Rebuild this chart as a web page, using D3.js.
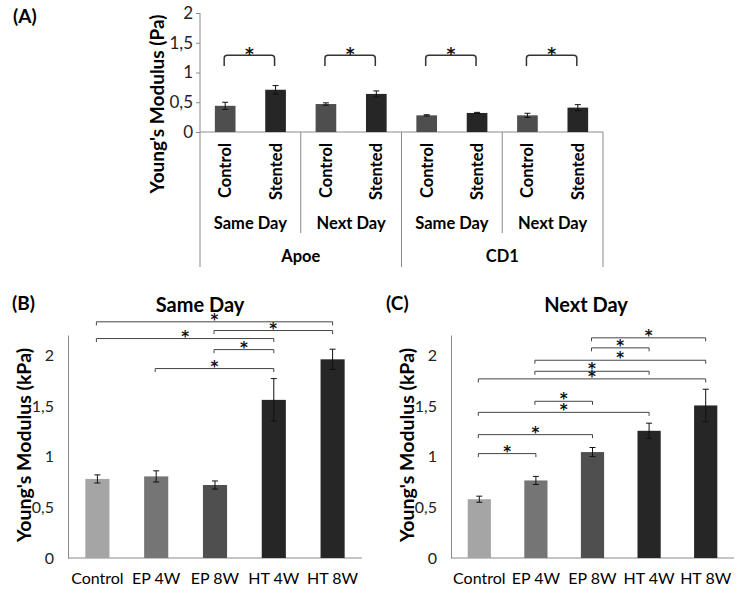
<!DOCTYPE html>
<html>
<head>
<meta charset="utf-8">
<script src="https://cdn.jsdelivr.net/npm/d3@7"></script>
<style>
  body { margin: 0; background: #ffffff; }
  svg { display: block; font-family: Lato, "Open Sans", sans-serif; }
</style>
</head>
<body>
<script>
// ---------- Panel A data ----------
const aCategories = ["Control", "Stented", "Control", "Stented", "Control", "Stented", "Control", "Stented"];
const aDays = ["Same Day", "Next Day", "Same Day", "Next Day"];
const aStrains = ["Apoe", "CD1"];
const aValues = [0.44, 0.71, 0.47, 0.64, 0.28, 0.32, 0.28, 0.41];
const aErrors = [0.06, 0.07, 0.02, 0.05, 0.01, 0.01, 0.035, 0.05];
const aBrackets = [[0, 1], [2, 3], [4, 5], [6, 7]];
const aTicks = [0, 0.5, 1, 1.5, 2];
const aTickLabels = ["0", "0,5", "1", "1,5", "2"];

// ---------- Panels B / C data ----------
const bcCategories = ["Control", "EP 4W", "EP 8W", "HT 4W", "HT 8W"];
const bValues = [0.78, 0.805, 0.72, 1.56, 1.96];
const bErrors = [0.04, 0.055, 0.04, 0.21, 0.10];
const bBrackets = [[0, 4, 2.33], [2, 4, 2.244], [0, 3, 2.165], [2, 3, 2.056], [1, 3, 1.869]];
const cValues = [0.58, 0.765, 1.045, 1.255, 1.505];
const cErrors = [0.03, 0.04, 0.045, 0.075, 0.16];
const cBrackets = [[2, 4, 2.172], [2, 3, 2.073], [1, 4, 1.951], [1, 3, 1.842], [0, 4, 1.767],
                   [1, 2, 1.546], [0, 3, 1.437], [0, 2, 1.217], [0, 1, 1.03]];
const bcTicks = [0, 0.5, 1, 1.5, 2];
const bcTickLabels = ["0", "0,5", "1", "1,5", "2"];

const aColors = ["#4e4e4e", "#262626"];
const bcColors = ["#a5a5a5", "#757575", "#4f4f4f", "#262626", "#262626"];
const axisGrey = "#8a8a8a";
const starFont = "'DejaVu Sans', sans-serif";

const svg = d3.select("body").append("svg").attr("width", 740).attr("height", 593);

// ================= Panel A =================
{
  const x = d3.scaleBand().domain(d3.range(aCategories.length)).range([200, 603])
    .paddingInner(0.59).paddingOuter(0.295);
  const y = d3.scaleLinear().domain([0, 2]).range([132, 13]);
  const g = svg.append("g");

  svg.append("text").attr("x", 13).attr("y", 15).attr("dominant-baseline", "central")
    .attr("font-weight", "bold").attr("font-size", 19).text("(A)");

  // y axis
  const ax = g.append("g").attr("transform", "translate(200,0)")
    .call(d3.axisLeft(y).tickValues(aTicks).tickFormat((d, i) => aTickLabels[i]).tickSize(4).tickPadding(3).tickSizeOuter(0));
  ax.select(".domain").remove();
  ax.selectAll(".tick line").attr("stroke", axisGrey);
  ax.selectAll(".tick text").attr("font-size", 17).attr("font-family", "Lato, sans-serif").attr("fill", "#222");
  g.append("line").attr("x1", 200).attr("x2", 200).attr("y1", y(2)).attr("y2", 267).attr("stroke", axisGrey);
  g.append("line").attr("x1", 200).attr("x2", 603).attr("y1", y(0)).attr("y2", y(0)).attr("stroke", axisGrey);

  // bars
  g.selectAll("rect.bar").data(aValues).join("rect")
    .attr("x", (d, i) => x(i)).attr("width", x.bandwidth())
    .attr("y", d => y(d)).attr("height", d => y(0) - y(d))
    .attr("fill", (d, i) => aColors[i % 2]);

  // error bars
  aValues.forEach((v, i) => {
    const cx = x(i) + x.bandwidth() / 2;
    const e = aErrors[i];
    g.append("path").attr("d", `M${cx},${y(v - e)}V${y(v + e)}M${cx - 3},${y(v + e)}H${cx + 3}M${cx - 3},${y(v - e)}H${cx + 3}`)
      .attr("stroke", "#111").attr("fill", "none").attr("stroke-width", 1);
  });

  // brackets
  aBrackets.forEach(([a, b]) => {
    const x1 = x(a) + x.bandwidth() / 2 - 1, x2 = x(b) + x.bandwidth() / 2 - 1;
    const yt = y(1.29), yl = y(1.11), r = 3;
    g.append("path").attr("d", `M${x1},${yl}V${yt + r}Q${x1},${yt} ${x1 + r},${yt}H${x2 - r}Q${x2},${yt} ${x2},${yt + r}V${yl}`)
      .attr("stroke", "#333").attr("stroke-width", 1.5).attr("fill", "none");
    g.append("text").attr("x", (x1 + x2) / 2).attr("y", yt + 5).attr("text-anchor", "middle")
      .attr("font-family", starFont).attr("font-weight", "bold").attr("font-size", 17).attr("fill", "#111").text("*");
  });

  // category labels
  aCategories.forEach((c, i) => {
    const cx = x(i) + x.bandwidth() / 2;
    g.append("text").attr("transform", `translate(${cx},143) rotate(-90)`)
      .attr("text-anchor", "end").attr("dominant-baseline", "central")
      .attr("font-weight", "bold").attr("font-size", 16.5).text(c);
  });
  // day groups
  const groupW = (603 - 200) / aDays.length;
  aDays.forEach((d, k) => {
    g.append("text").attr("x", 200 + groupW * (k + 0.5)).attr("y", 223)
      .attr("text-anchor", "middle").attr("dominant-baseline", "central")
      .attr("font-weight", "bold").attr("font-size", 16.5).text(d);
    if (k > 0) {
      const lx = 200 + groupW * k;
      g.append("line").attr("x1", lx).attr("x2", lx).attr("y1", y(0)).attr("y2", k === 2 ? 267 : 233).attr("stroke", axisGrey);
    }
  });
  g.append("line").attr("x1", 603).attr("x2", 603).attr("y1", y(0)).attr("y2", 267).attr("stroke", axisGrey);
  const strainW = (603 - 200) / aStrains.length;
  aStrains.forEach((s, k) => {
    g.append("text").attr("x", 200 + strainW * (k + 0.5)).attr("y", 256)
      .attr("text-anchor", "middle").attr("dominant-baseline", "central")
      .attr("font-weight", "bold").attr("font-size", 16.5).text(s);
  });

  svg.append("text").attr("transform", "translate(156,104) rotate(-90)")
    .attr("text-anchor", "middle").attr("dominant-baseline", "central")
    .attr("font-weight", "bold").attr("font-size", 19).text("Young's Modulus (Pa)");
}

// ================= Panels B and C =================
function drawPanel(opts) {
  const { x0, x1, letter, letterX, title, titleX, ytitleX, values, errors, brackets } = opts;
  const x = d3.scaleBand().domain(d3.range(bcCategories.length)).range([x0, x1])
    .paddingInner(0.59).paddingOuter(0.295);
  const y = d3.scaleLinear().domain([0, 2.2]).range([558, 335]);
  const g = svg.append("g");

  svg.append("text").attr("x", letterX).attr("y", 302).attr("dominant-baseline", "central")
    .attr("font-weight", "bold").attr("font-size", 19).text(letter);
  svg.append("text").attr("x", titleX).attr("y", 304).attr("text-anchor", "middle").attr("dominant-baseline", "central")
    .attr("font-weight", "bold").attr("font-size", 20).text(title);

  const ax = g.append("g").attr("transform", `translate(${x0},0)`)
    .call(d3.axisLeft(y).tickValues(bcTicks).tickFormat((d, i) => bcTickLabels[i]).tickSize(0).tickPadding(14).tickSizeOuter(0));
  ax.select(".domain").attr("stroke", axisGrey);
  ax.selectAll(".tick text").attr("font-size", 16).attr("font-family", "Lato, sans-serif").attr("fill", "#222");

  g.append("line").attr("x1", x0).attr("x2", x1).attr("y1", y(0)).attr("y2", y(0)).attr("stroke", axisGrey);

  g.selectAll("rect.bar").data(values).join("rect")
    .attr("x", (d, i) => x(i)).attr("width", x.bandwidth())
    .attr("y", d => y(d)).attr("height", d => y(0) - y(d))
    .attr("fill", (d, i) => bcColors[i]);

  values.forEach((v, i) => {
    const cx = x(i) + x.bandwidth() / 2;
    const e = errors[i];
    g.append("path").attr("d", `M${cx},${y(v - e)}V${y(v + e)}M${cx - 3},${y(v + e)}H${cx + 3}M${cx - 3},${y(v - e)}H${cx + 3}`)
      .attr("stroke", "#111").attr("fill", "none").attr("stroke-width", 1);
  });

  brackets.forEach(([a, b, lvl]) => {
    const bx1 = x(a) + x.bandwidth() / 2 - 1, bx2 = x(b) + x.bandwidth() / 2;
    const by = y(lvl);
    g.append("path").attr("d", `M${bx1},${by + 3.5}V${by}H${bx2}V${by + 3.5}`)
      .attr("stroke", "#444").attr("stroke-width", 1).attr("fill", "none");
    g.append("text").attr("x", (bx1 + bx2) / 2).attr("y", by + 3).attr("text-anchor", "middle")
      .attr("font-family", starFont).attr("font-weight", "bold").attr("font-size", 15).attr("fill", "#111").text("*");
  });

  bcCategories.forEach((c, i) => {
    g.append("text").attr("x", x(i) + x.bandwidth() / 2).attr("y", 577)
      .attr("text-anchor", "middle").attr("dominant-baseline", "central")
      .attr("font-size", 16).text(c);
  });

  svg.append("text").attr("transform", `translate(${ytitleX},445) rotate(-90)`)
    .attr("text-anchor", "middle").attr("dominant-baseline", "central")
    .attr("font-weight", "bold").attr("font-size", 19.5).text("Young's Modulus (kPa)");
}

drawPanel({ x0: 68, x1: 362, letter: "(B)", letterX: 12, title: "Same Day", titleX: 200, ytitleX: 23,
            values: bValues, errors: bErrors, brackets: bBrackets });
drawPanel({ x0: 451, x1: 734, letter: "(C)", letterX: 386, title: "Next Day", titleX: 586, ytitleX: 406,
            values: cValues, errors: cErrors, brackets: cBrackets });
</script>
</body>
</html>
